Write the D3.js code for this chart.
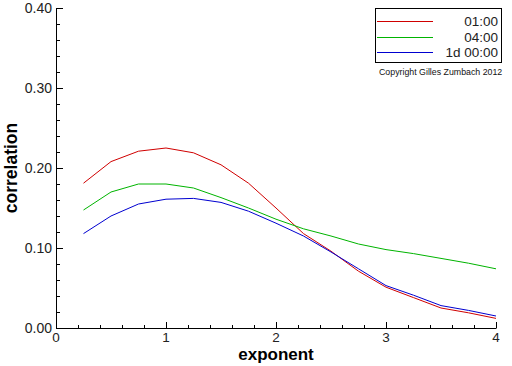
<!DOCTYPE html>
<html><head><meta charset="utf-8">
<script src="https://cdn.jsdelivr.net/npm/d3@7"></script>
<style>html,body{margin:0;padding:0;background:#fff}</style>
</head><body>
<script>
const exponents = [0.25,0.5,0.75,1.0,1.25,1.5,1.75,2.0,2.25,2.5,2.75,3.0,3.25,3.5,3.75,4.0];
const series01h = [0.181,0.208,0.221,0.225,0.219,0.204,0.181,0.150,0.118,0.096,0.071,0.051,0.038,0.025,0.019,0.012];
const series04h = [0.1475,0.170,0.180,0.180,0.175,0.163,0.150,0.136,0.124,0.115,0.105,0.098,0.093,0.087,0.081,0.074];
const series1d  = [0.118,0.140,0.155,0.161,0.162,0.157,0.146,0.131,0.115,0.095,0.074,0.053,0.041,0.028,0.022,0.015];
const seriesNames = ["01:00","04:00","1d 00:00"];
const seriesColors = ["#d00000","#00b400","#0000d0"];
const xTicks = [0,1,2,3,4];
const yTicks = [0.00,0.10,0.20,0.30,0.40];

const W=512,H=366;
const svg=d3.select("body").append("svg").attr("width",W).attr("height",H)
  .style("font-family","'Liberation Sans',Arial,sans-serif");
svg.append("rect").attr("width",W).attr("height",H).attr("fill","#fff");

const x=d3.scaleLinear().domain([0,4]).range([56,496]);
const y=d3.scaleLinear().domain([0,0.4]).range([328,8]);

// axes lines
svg.append("line").attr("x1",x(0)+0.5).attr("x2",x(0)+0.5).attr("y1",y(0.4)).attr("y2",y(0)+0.5).attr("stroke","#000");
svg.append("line").attr("x1",x(0)).attr("x2",x(4)+0.5).attr("y1",y(0)+0.5).attr("y2",y(0)+0.5).attr("stroke","#000");

// y ticks
const yMinor=d3.range(0,0.401,0.02);
svg.append("g").selectAll("line").data(yMinor).join("line")
  .attr("x1",x(0)).attr("x2",(d,i)=>x(0)+(i%5===0?7:4))
  .attr("y1",d=>Math.round(y(d))+0.5).attr("y2",d=>Math.round(y(d))+0.5).attr("stroke","#000");
svg.append("g").selectAll("text").data(yTicks).join("text")
  .attr("x",52).attr("y",d=>y(d)).attr("dy","0.38em").attr("text-anchor","end")
  .attr("font-size",14).attr("fill","#222").text(d=>d.toFixed(2));

// x ticks
const xMinor=d3.range(0,4.001,0.2);
svg.append("g").selectAll("line").data(xMinor).join("line")
  .attr("y1",y(0)).attr("y2",(d,i)=>y(0)-(i%5===0?6:3))
  .attr("x1",d=>Math.round(x(d))+0.5).attr("x2",d=>Math.round(x(d))+0.5).attr("stroke","#000");
svg.append("g").selectAll("text").data(xTicks).join("text")
  .attr("x",d=>x(d)).attr("y",341.5).attr("text-anchor","middle")
  .attr("font-size",13.5).attr("fill","#222").text(d=>d);

// axis titles
svg.append("text").attr("x",276).attr("y",360).attr("text-anchor","middle")
  .attr("font-size",17).attr("font-weight","bold").text("exponent");
svg.append("text").attr("transform","translate(17,168) rotate(-90)").attr("text-anchor","middle")
  .attr("font-size",17.5).attr("font-weight","bold").text("correlation");

// lines
const all=[series01h,series04h,series1d];
const line=d3.line().x((d,i)=>x(exponents[i])).y(d=>y(d));
all.forEach((s,k)=>{
  svg.append("path").datum(s).attr("d",line).attr("fill","none")
    .attr("stroke",seriesColors[k]).attr("stroke-width",1);
});

// legend
svg.append("rect").attr("x",375.5).attr("y",8.5).attr("width",126).attr("height",54)
  .attr("fill","#fff").attr("stroke","#000");
const ly=[21.5,37.5,52.5];
seriesNames.forEach((n,k)=>{
  svg.append("line").attr("x1",377).attr("x2",433).attr("y1",ly[k]).attr("y2",ly[k])
    .attr("stroke",seriesColors[k]);
  svg.append("text").attr("x",498).attr("y",ly[k]).attr("dy","0.36em").attr("text-anchor","end")
    .attr("font-size",13.5).attr("fill","#222").text(n);
});
svg.append("text").attr("x",379).attr("y",75).attr("font-size",8.8).attr("fill","#111")
  .text("Copyright Gilles Zumbach 2012");
</script>
</body></html>
